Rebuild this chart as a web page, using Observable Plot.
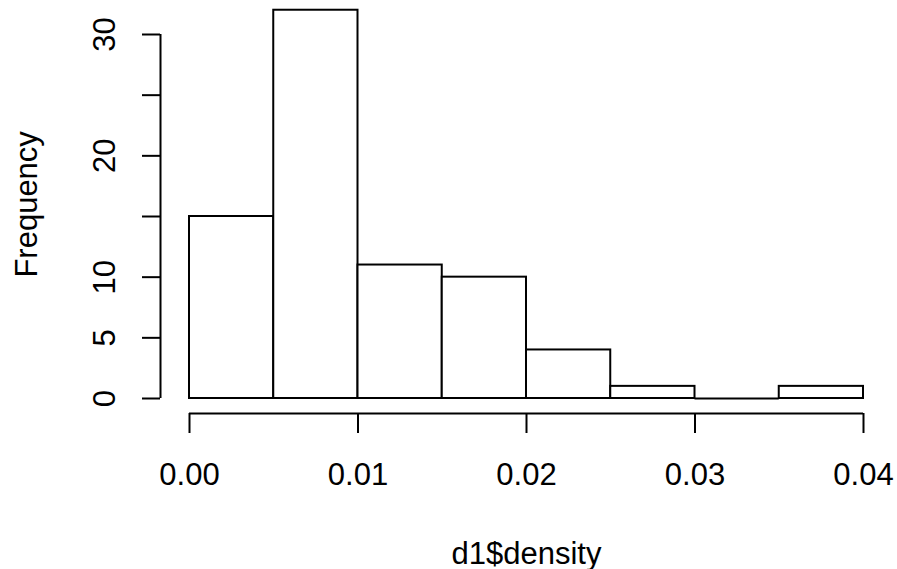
<!DOCTYPE html>
<html><head><meta charset="utf-8">
<script src="https://cdn.jsdelivr.net/npm/d3@7"></script>
<script src="https://cdn.jsdelivr.net/npm/@observablehq/plot@0.6"></script>
<style>html,body{margin:0;padding:0;background:#fff}</style>
</head><body><div id="chart"></div>
<script>
const binStarts = [0, 0.005, 0.01, 0.015, 0.02, 0.025, 0.03, 0.035];
const binWidth = 0.005;
const counts = [15, 32, 11, 10, 4, 1, 0, 1];
const xTicks = [0, 0.01, 0.02, 0.03, 0.04];
const xTickLabels = ["0.00", "0.01", "0.02", "0.03", "0.04"];
const yTicks = [0, 5, 10, 15, 20, 25, 30];
const yTickLabels = ["0", "5", "10", "", "20", "", "30"];
const xTitle = "d1$density";
const yTitle = "Frequency";

const bins = binStarts.map((s, i) => ({x1: s, x2: s + binWidth, count: counts[i]}));
const xLab = xTicks.map((v, i) => ({v, t: xTickLabels[i]}));
const yLab = yTicks.map((v, i) => ({v, t: yTickLabels[i], x: 0})).filter(d => d.t !== "");
const font = "'Liberation Sans', Arial, Helvetica, sans-serif";
const fs = 31;

const chart = Plot.plot({
  width: 897, height: 569,
  marginLeft: 189, marginRight: 34, marginTop: 34, marginBottom: 171,
  x: {domain: [0, 0.04]},
  y: {domain: [0, 30]},
  style: {fontFamily: font, fontSize: fs + "px", color: "#000", background: "#fff", overflow: "visible"},
  marks: [
    Plot.rect(bins.filter(d => d.count > 0), {x1: "x1", x2: "x2", y1: 0, y2: "count", fill: "white", stroke: "black", strokeWidth: 2}),
    // empty bins are drawn by R as zero-height rectangles (a line at 0)
    Plot.ruleY(bins.filter(d => d.count === 0), {x1: "x1", x2: "x2", y: "count", stroke: "black", strokeWidth: 2}),
    // y axis (R style, offset left)
    Plot.ruleX([0], {y1: 0, y2: 30, dx: -29, stroke: "black", strokeWidth: 2}),
    Plot.axisY({ticks: yTicks, tickSize: 18, dx: -29, tickFormat: () => "", label: null, strokeWidth: 2}),
    Plot.text(yLab, {x: "x", y: "v", text: "t", rotate: -90, dx: -75, lineAnchor: "bottom", textAnchor: "middle", fill: "black", fontSize: fs}),
    Plot.text([{x: 0, y: 16}], {x: "x", y: "y", text: () => yTitle, rotate: -90, dx: -153, lineAnchor: "bottom", textAnchor: "middle", fill: "black", fontSize: fs}),
    // x axis
    Plot.ruleY([0], {x1: 0, x2: 0.04, dy: 15, stroke: "black", strokeWidth: 2}),
    Plot.axisX({ticks: xTicks, tickSize: 20, dy: 15, tickFormat: () => "", label: null, strokeWidth: 2}),
    Plot.text(xLab, {x: "v", y: () => 0, text: "t", dy: 86, lineAnchor: "bottom", textAnchor: "middle", fill: "black", fontSize: fs}),
    Plot.text([{x: 0.02, y: 0}], {x: "x", y: "y", text: () => xTitle, dy: 165, lineAnchor: "bottom", textAnchor: "middle", fill: "black", fontSize: fs})
  ]
});
document.getElementById("chart").appendChild(chart);
</script>
</body></html>
